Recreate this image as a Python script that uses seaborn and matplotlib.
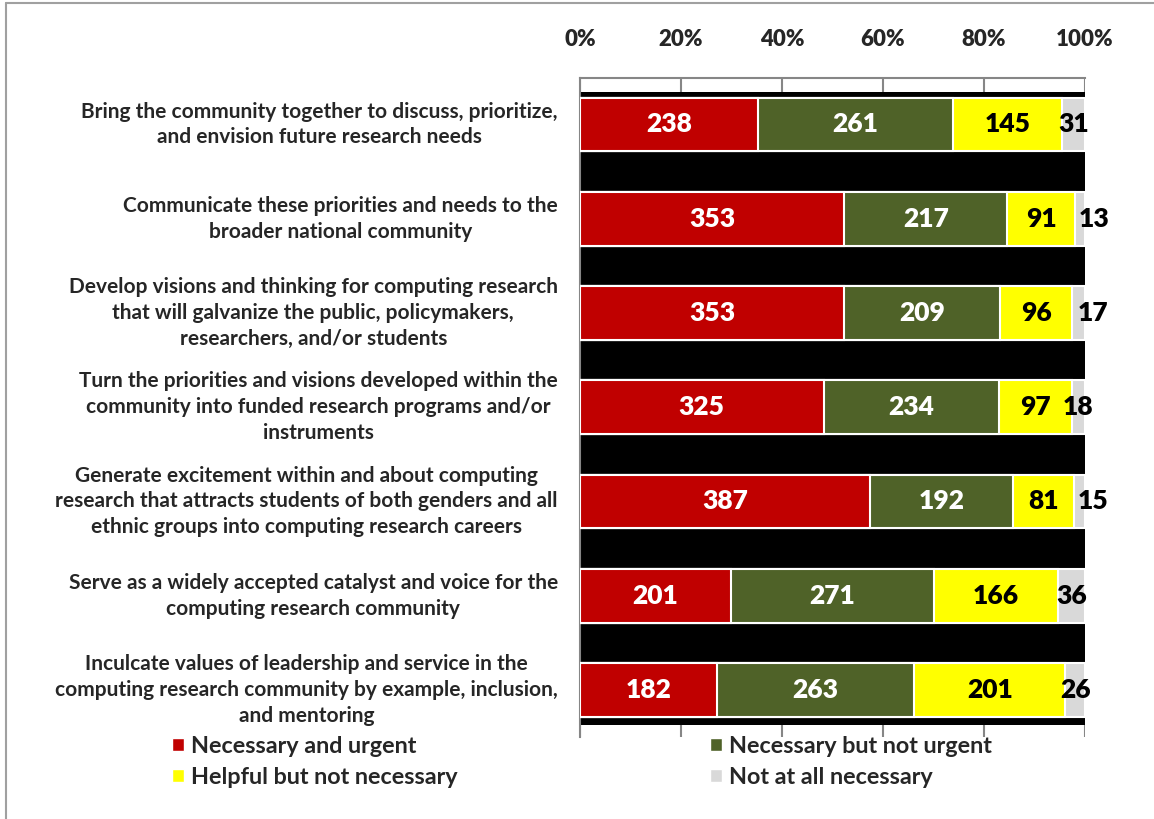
import numpy as np
import pandas as pd
import matplotlib
matplotlib.use("Agg")
import matplotlib.pyplot as plt
from matplotlib.patches import Patch
from matplotlib.lines import Line2D
import seaborn as sns

# ---------------- data ----------------
categories = [
    "Bring the community together to discuss, prioritize,\nand envision future research needs",
    "Communicate these priorities and needs to the\nbroader national community",
    "Develop visions and thinking for computing research\nthat will galvanize the public, policymakers,\nresearchers, and/or students",
    "Turn the priorities and visions developed within the\ncommunity into funded research programs and/or\ninstruments",
    "Generate excitement within and about computing\nresearch that attracts students of both genders and all\nethnic groups into computing research careers",
    "Serve as a widely accepted catalyst and voice for the\ncomputing research community",
    "Inculcate values of leadership and service in the\ncomputing research community by example, inclusion,\nand mentoring",
]
series_names = ["Necessary and urgent", "Necessary but not urgent",
                "Helpful but not necessary", "Not at all necessary"]
urgent = [238, 353, 353, 325, 387, 201, 182]
not_urgent = [261, 217, 209, 234, 192, 271, 263]
helpful = [145, 91, 96, 97, 81, 166, 201]
not_at_all = [31, 13, 17, 18, 15, 36, 26]
tick_values = [0, 20, 40, 60, 80, 100]

colors = ["#C00000", "#4F6228", "#FFFF00", "#D9D9D9"]
text_colors = ["white", "white", "black", "black"]

counts = pd.DataFrame({
    series_names[0]: urgent,
    series_names[1]: not_urgent,
    series_names[2]: helpful,
    series_names[3]: not_at_all,
}, index=categories)
pct = counts.div(counts.sum(axis=1), axis=0) * 100
cum = pct.cumsum(axis=1)

# ---------------- style ----------------
sns.set_style("white")
plt.rcParams["font.family"] = ["Lato", "DejaVu Sans"]
plt.rcParams["font.weight"] = "bold"

fig = plt.figure(figsize=(11.54, 8.19), dpi=100)
W, H = 1154, 819
ax = fig.add_axes([580 / W, 1 - 737 / H, 505 / W, 659 / H])

bar_h = 0.57
# stacked bars: draw cumulative totals from the outermost inwards
for k in reversed(range(4)):
    df = pd.DataFrame({"cat": categories, "val": cum.iloc[:, k].values})
    sns.barplot(data=df, x="val", y="cat", orient="h", color=colors[k],
                saturation=1, width=bar_h, edgecolor="white", linewidth=1.5,
                ax=ax, zorder=3)

# black band behind the bars
ax.axhspan(-0.345, len(categories) - 1 + 0.37, color="black", zorder=1.5, lw=0)

# value labels
for i, cat in enumerate(categories):
    left = 0.0
    for k in range(4):
        v = pct.iloc[i, k]
        n = counts.iloc[i, k]
        xc = left + v / 2
        dx = 0
        if k == 3 and v < 2.6:
            dx = 10
        ax.annotate(f"{n}", (xc, i), xytext=(dx, 0), textcoords="offset points",
                    ha="center", va="center", color=text_colors[k],
                    fontsize=19, fontweight="heavy", zorder=5)
        left += v

ax.set_xlim(0, 100)
ax.set_ylim(len(categories) - 1 + 0.499, -0.493)
ax.set_xlabel("")
ax.set_ylabel("")

ax.xaxis.tick_top()
ax.set_xticks(tick_values)
ax.set_xticklabels([f"{t}%" for t in tick_values], fontsize=16, fontweight="heavy")
ax.tick_params(axis="x", length=0, pad=20)
ax.tick_params(axis="y", length=0, pad=16)
for lbl in ax.get_yticklabels():
    lbl.set_fontsize(15)
    lbl.set_fontweight("bold")
    lbl.set_multialignment("center")
    lbl.set_linespacing(1.37)
    lbl.set_verticalalignment("center")

ax.grid(axis="x", color="#868686", lw=1.5, zorder=1)
ax.grid(axis="y", visible=False)
ax.set_axisbelow(True)
for s in ["top", "left"]:
    ax.spines[s].set_color("#868686")
    ax.spines[s].set_linewidth(1.5)
for s in ["right", "bottom"]:
    ax.spines[s].set_visible(False)

# legend
order = [0, 2, 1, 3]
handles = [Patch(facecolor=colors[k], edgecolor="white", label=series_names[k]) for k in order]
fig.legend(handles=handles, loc="upper left", bbox_to_anchor=(172 / W, 1 - 736 / H),
           ncol=2, frameon=False, prop={"weight": "bold", "size": 16.8},
           handlelength=0.5, handleheight=0.5, handletextpad=0.3,
           columnspacing=10.85, labelspacing=0.43, borderpad=0, borderaxespad=0)

# outer frame lines
fig.add_artist(Line2D([6 / W, 6 / W], [0, 1 - 3 / H], color="#A0A0A0", lw=1.5))
fig.add_artist(Line2D([6 / W, 1], [1 - 3 / H, 1 - 3 / H], color="#A0A0A0", lw=1.5))

fig.savefig("out.png", dpi=100)
